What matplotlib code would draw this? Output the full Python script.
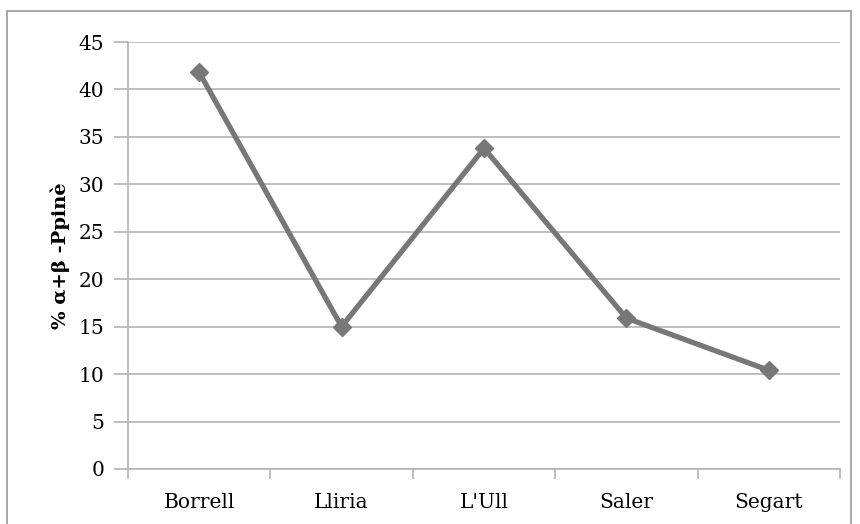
import numpy as np
import matplotlib.pyplot as plt
from matplotlib.patches import Rectangle

sites = ['Borrell', 'Lliria', "L'Ull", 'Saler', 'Segart']
values = [41.8, 15.0, 33.8, 15.9, 10.4]
yticks = [0, 5, 10, 15, 20, 25, 30, 35, 40, 45]

plt.rcParams['font.family'] = ['DejaVu Serif']

W, H = 860, 524
fig = plt.figure(figsize=(W / 100, H / 100), dpi=100)
ax = fig.add_axes([128 / W, 1 - 469 / H, (840 - 128) / W, (469 - 42) / H])

grid_c = '#b3b3b3'
x = np.arange(len(sites))
ax.plot(x, values, color='#777777', lw=3.8, marker='D', ms=9.5,
        solid_joinstyle='miter', zorder=3, clip_on=False)

ax.set_xlim(-0.5, len(sites) - 0.5)
ax.set_ylim(0, 45)
ax.set_yticks(yticks)
ax.set_xticks(x)
ax.set_xticklabels(sites)
ax.set_xticks(np.arange(len(sites) + 1) - 0.5, minor=True)
ax.yaxis.grid(True, color=grid_c, lw=1.2)
ax.set_axisbelow(True)

for s in ['top', 'right']:
    ax.spines[s].set_visible(False)
for s in ['left', 'bottom']:
    ax.spines[s].set_color(grid_c)
    ax.spines[s].set_linewidth(1.2)

ax.tick_params(axis='y', length=10, width=1.2, color=grid_c, labelsize=14.5, pad=7)
ax.tick_params(axis='x', which='major', length=0, labelsize=14.5, pad=17)
ax.tick_params(axis='x', which='minor', length=7, width=1.2, color=grid_c)
ax.set_ylabel('% α+β -Ppinè', fontsize=14, fontweight='bold', labelpad=6)

fig.patches.append(Rectangle((7 / W, -0.02), (851 - 7) / W, 1.02 - 11 / H,
                             transform=fig.transFigure, fill=False,
                             edgecolor='#9a9a9a', lw=1.2))

fig.savefig('out.png', dpi=100)
